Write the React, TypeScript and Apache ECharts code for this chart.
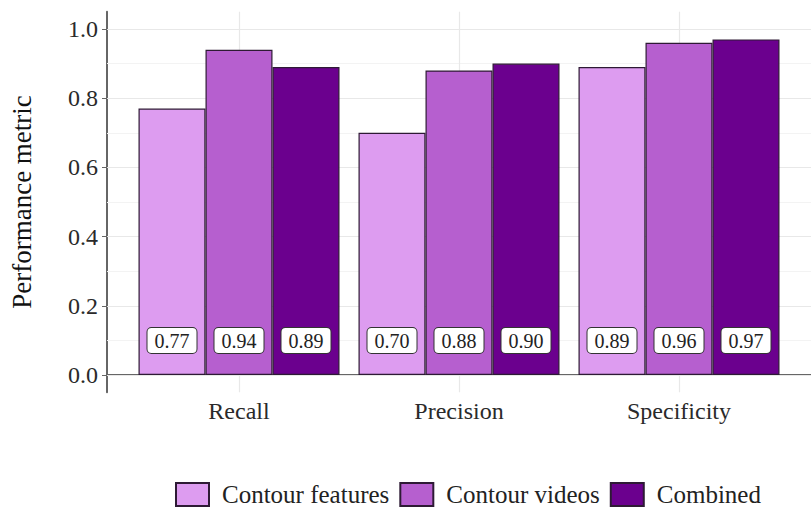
import React, { useEffect, useRef } from "react";
import * as echarts from "echarts";

const categories = ["Recall", "Precision", "Specificity"];
const categoryPositions = [1, 2, 3];
const seriesNames = ["Contour features", "Contour videos", "Combined"];
const contourFeatures = [0.77, 0.7, 0.89];
const contourVideos = [0.94, 0.88, 0.96];
const combined = [0.89, 0.9, 0.97];
const yTicks = [0, 0.2, 0.4, 0.6, 0.8, 1.0];
const yMinorTicks = [0.1, 0.3, 0.5, 0.7, 0.9];
const colors = ["#DD9CF0", "#B65FCF", "#6B008E"];

const FONT = "Liberation Serif, Times New Roman, serif";

export default function App() {
  const ref = useRef<HTMLDivElement>(null);
  useEffect(() => {
    if (!ref.current) return;
    const chart = echarts.init(ref.current, undefined, { renderer: "svg" });
    const values = [contourFeatures, contourVideos, combined];
    const barSeries = seriesNames.map((name, i) => ({
      name,
      type: "bar",
      z: 3,
      barWidth: 67,
      barGap: "0%",
      data: values[i].map((v, j) => [categoryPositions[j], v]),
      itemStyle: { color: colors[i], borderColor: "#2e1a35", borderWidth: 1.2 },
      label: {
        show: true,
        position: "insideBottom",
        distance: 22,
        formatter: (p: any) => Number(p.value[1]).toFixed(2),
        fontFamily: FONT,
        fontSize: 20,
        color: "#222",
        backgroundColor: "#fff",
        borderColor: "#333",
        borderWidth: 1,
        borderRadius: 4,
        padding: [3, 7, 2, 7],
      },
    }));
    const gridLines = [
      ...yTicks.map((v) => ({ yAxis: v, lineStyle: { color: "#e8e8e8", width: 1.2, type: "solid" } })),
      ...yMinorTicks.map((v) => ({ yAxis: v, lineStyle: { color: "#f3f3f3", width: 1, type: "solid" } })),
      ...categoryPositions.map((v) => ({ xAxis: v, lineStyle: { color: "#e8e8e8", width: 1.2, type: "solid" } })),
    ];
    chart.setOption({
      animation: false,
      backgroundColor: "#fff",
      grid: { left: 105, right: -7.6, top: 11.7, bottom: 116.7 },
      legend: {
        data: seriesNames,
        top: 482,
        left: 175,
        padding: 0,
        itemWidth: 33,
        itemHeight: 23,
        itemGap: 10,
        icon: "rect",
        textStyle: { fontFamily: FONT, fontSize: 25, lineHeight: 25, color: "#222", padding: [0, 0, 0, 8] },
      },
      xAxis: {
        type: "value",
        min: 0.4,
        max: 3.6,
        axisLine: { show: true, lineStyle: { color: "#666", width: 2 } },
        axisTick: { show: true, customValues: categoryPositions, length: 5, lineStyle: { color: "#666" } },
        axisLabel: {
          customValues: categoryPositions,
          formatter: (v: number) => categories[Math.round(v) - 1] ?? "",
          fontFamily: FONT,
          fontSize: 24,
          color: "#2a2a2a",
          margin: 7,
        },
        splitLine: { show: false },
      },
      yAxis: {
        type: "value",
        min: -0.05,
        max: 1.05,
        name: "Performance metric",
        nameLocation: "middle",
        nameGap: 72,
        nameTextStyle: { fontFamily: FONT, fontSize: 27, color: "#111" },
        axisLine: { show: true, lineStyle: { color: "#666", width: 2 } },
        axisTick: { show: true, customValues: yTicks, length: 5, lineStyle: { color: "#666" } },
        axisLabel: {
          customValues: yTicks,
          formatter: (v: number) => v.toFixed(1),
          fontFamily: FONT,
          fontSize: 24,
          color: "#2a2a2a",
          margin: 9,
        },
        splitLine: { show: false },
      },
      series: [
        {
          name: "grid",
          type: "line",
          z: 1,
          data: [],
          markLine: {
            z: 1,
            silent: true,
            symbol: ["none", "none"],
            label: { show: false },
            animation: false,
            data: gridLines,
          },
        },
        ...barSeries,
      ],
    });
    return () => chart.dispose();
  }, []);
  return (
    <div
      ref={ref}
      style={{ position: "fixed", left: 0, top: 0, width: 811, height: 509 }}
    />
  );
}
